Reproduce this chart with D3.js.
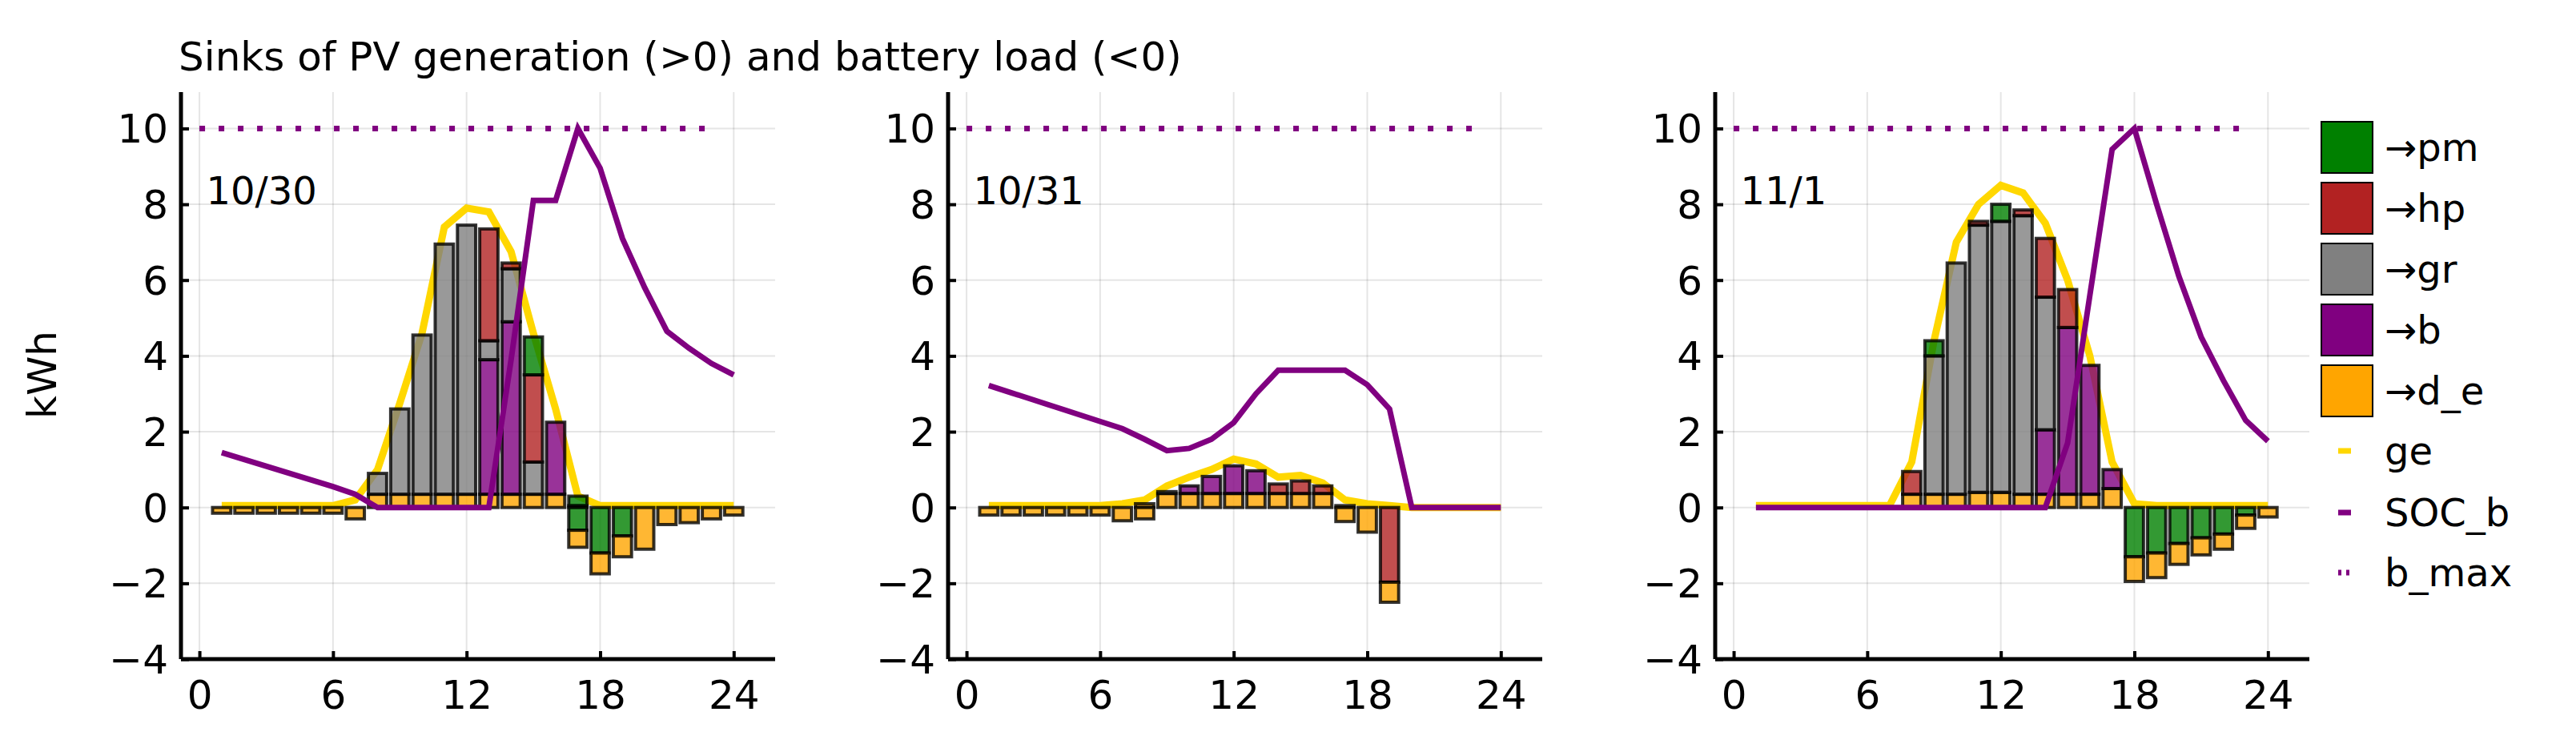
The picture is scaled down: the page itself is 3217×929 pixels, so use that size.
<!DOCTYPE html>
<html><head><meta charset="utf-8">
<script src="https://cdn.jsdelivr.net/npm/d3@7"></script>
<style>body{margin:0;background:#fff}text{font-family:"DejaVu Sans",sans-serif}</style>
</head><body>
<script>
const hours = d3.range(1,25);
const days = ["10/30","10/31","11/1"];
const xTicks = [0,6,12,18,24];
const yTicks = [-4,-2,0,2,4,6,8,10];
const bMax = 10;
// PV generation
const ge = [
 [0.05,0.05,0.05,0.05,0.05,0.05,0.2,1.0,2.75,4.6,7.4,7.9,7.8,6.75,4.6,2.6,0.3,0.05,0.05,0.05,0.05,0.05,0.05,0.05],
 [0.05,0.05,0.05,0.05,0.05,0.05,0.1,0.2,0.57,0.8,1.0,1.28,1.15,0.8,0.85,0.65,0.2,0.1,0.05,0,0,0,0,0],
 [0.05,0.05,0.05,0.05,0.05,0.05,0.05,1.2,4.4,7.0,8.0,8.5,8.3,7.5,6.0,4.0,1.2,0.1,0.05,0.05,0.05,0.05,0.05,0.05]];
// state of charge
const soc = [
 [1.45,1.27,1.09,0.91,0.73,0.55,0.35,0,0,0,0,0,0,3.9,8.1,8.1,10,8.95,7.1,5.8,4.65,4.2,3.8,3.5],
 [3.22,3.03,2.84,2.65,2.46,2.27,2.08,1.8,1.5,1.56,1.8,2.24,3.0,3.62,3.62,3.62,3.62,3.24,2.6,0,0,0,0,0],
 [0,0,0,0,0,0,0,0,0,0,0,0,0,0,1.7,5.6,9.45,10,8.0,6.1,4.5,3.35,2.3,1.75]];
// positive sinks
const dePos = [
 [0,0,0,0,0,0,0,0.35,0.35,0.35,0.35,0.35,0.35,0.35,0.35,0.35,0,0,0,0,0,0,0,0],
 [0,0,0,0,0,0,0,0.1,0.37,0.37,0.37,0.37,0.37,0.37,0.37,0.37,0.05,0,0,0,0,0,0,0],
 [0,0,0,0,0,0,0,0.35,0.35,0.35,0.4,0.4,0.35,0.35,0.35,0.35,0.5,0,0,0,0,0,0,0]];
const bPos = [
 [0,0,0,0,0,0,0,0,0,0,0,0,3.55,4.55,0,1.9,0,0,0,0,0,0,0,0],
 [0,0,0,0,0,0,0,0,0,0.2,0.45,0.73,0.6,0,0,0,0,0,0,0,0,0,0,0],
 [0,0,0,0,0,0,0,0,0,0,0,0,0,1.7,4.4,3.4,0.5,0,0,0,0,0,0,0]];
const grPos = [
 [0,0,0,0,0,0,0,0.55,2.25,4.2,6.6,7.1,0.5,1.4,0.85,0,0,0,0,0,0,0,0,0],
 [0,0,0,0,0,0,0,0,0.05,0,0,0,0,0,0,0,0,0,0,0,0,0,0,0],
 [0,0,0,0,0,0,0,0,3.65,6.1,7.05,7.15,7.35,3.5,0,0,0,0,0,0,0,0,0,0]];
const hpPos = [
 [0,0,0,0,0,0,0,0,0,0,0,0,2.95,0.15,2.3,0,0.05,0,0,0,0,0,0,0],
 [0,0,0,0,0,0,0,0,0,0,0,0,0,0.25,0.33,0.2,0,0,0,0,0,0,0,0],
 [0,0,0,0,0,0,0,0.6,0,0,0.1,0,0.15,1.55,1.0,0,0,0,0,0,0,0,0,0]];
const pmPos = [
 [0,0,0,0,0,0,0,0,0,0,0,0,0,0,1.0,0,0.25,0,0,0,0,0,0,0],
 [0,0,0,0,0,0,0,0,0,0,0,0,0,0,0,0,0,0,0,0,0,0,0,0],
 [0,0,0,0,0,0,0,0,0.4,0,0,0.45,0,0,0,0,0,0,0,0,0,0,0,0]];
// battery discharge (negative)
const pmNeg = [
 [0,0,0,0,0,0,0,0,0,0,0,0,0,0,0,0,-0.6,-1.2,-0.75,0,0,0,0,0],
 [0,0,0,0,0,0,0,0,0,0,0,0,0,0,0,0,0,0,0,0,0,0,0,0],
 [0,0,0,0,0,0,0,0,0,0,0,0,0,0,0,0,0,-1.3,-1.2,-0.95,-0.8,-0.7,-0.2,0]];
const hpNeg = [
 [0,0,0,0,0,0,0,0,0,0,0,0,0,0,0,0,0,0,0,0,0,0,0,0],
 [0,0,0,0,0,0,0,0,0,0,0,0,0,0,0,0,0,0,-1.97,0,0,0,0,0],
 [0,0,0,0,0,0,0,0,0,0,0,0,0,0,0,0,0,0,0,0,0,0,0,0]];
const deNeg = [
 [-0.15,-0.15,-0.15,-0.15,-0.15,-0.15,-0.3,0,0,0,0,0,0,0,0,0,-0.45,-0.55,-0.55,-1.1,-0.45,-0.4,-0.3,-0.2],
 [-0.2,-0.2,-0.2,-0.2,-0.2,-0.2,-0.35,-0.3,0,0,0,0,0,0,0,0,-0.37,-0.65,-0.53,0,0,0,0,0],
 [0,0,0,0,0,0,0,0,0,0,0,0,0,0,0,0,0,-0.65,-0.65,-0.55,-0.45,-0.4,-0.35,-0.25]];
const posSeries = [["d_e",dePos],["b",bPos],["gr",grPos],["hp",hpPos],["pm",pmPos]];
const negSeries = [["pm",pmNeg],["hp",hpNeg],["d_e",deNeg]];
const colors = {pm:"#008000",hp:"#B22222",gr:"#808080",b:"#800080",d_e:"#FFA500"};
const legendBars = ["pm","hp","gr","b","d_e"];

const W=3217,H=929;
const svg=d3.select("body").append("svg").attr("width",W).attr("height",H);
const panelLeft=[226,1184,2142], pw=742;
const y=d3.scaleLinear().domain([-4,10.96]).range([823,115]);

svg.append("text").attr("x",223).attr("y",88).attr("font-size",50).text("Sinks of PV generation (>0) and battery load (<0)");
svg.append("text").attr("transform","translate(70,468) rotate(-90)").attr("text-anchor","middle").attr("font-size",50).text("kWh");

days.forEach((day,i)=>{
  const L=panelLeft[i];
  const x=d3.scaleLinear().domain([-0.83,25.86]).range([L,L+pw]);
  const g=svg.append("g");
  // grid
  g.selectAll(".gx").data(xTicks).join("line").attr("x1",d=>x(d)).attr("x2",d=>x(d)).attr("y1",115).attr("y2",823).attr("stroke","#000").attr("stroke-opacity",0.1).attr("stroke-width",2);
  g.selectAll(".gy").data(yTicks).join("line").attr("x1",L).attr("x2",L+pw).attr("y1",d=>y(d)).attr("y2",d=>y(d)).attr("stroke","#000").attr("stroke-opacity",0.1).attr("stroke-width",2);
  // ge line
  g.append("path").datum(hours).attr("fill","none").attr("stroke","#FFD700").attr("stroke-width",9)
    .attr("d",d3.line().x(h=>x(h)).y((h,k)=>y(ge[i][k])));
  // bars
  const bw=x(0.82)-x(0);
  function stack(series,sign){
    hours.forEach((h,k)=>{
      let base=0;
      series.forEach(([name,arr])=>{
        const v=arr[i][k]; if(v===0) return;
        const top=base+v;
        g.append("rect").attr("x",x(h)-bw/2).attr("width",bw)
          .attr("y",y(Math.max(base,top))).attr("height",Math.abs(y(base)-y(top)))
          .attr("fill",colors[name]).attr("fill-opacity",0.8).attr("stroke","#000").attr("stroke-opacity",0.8).attr("stroke-width",4);
        base=top;
      });
    });
  }
  stack(posSeries,1); stack(negSeries,-1);
  // b_max
  g.append("line").attr("x1",x(0)).attr("x2",x(23)).attr("y1",y(bMax)).attr("y2",y(bMax)).attr("stroke","#800080").attr("stroke-width",7).attr("stroke-dasharray","7 17");
  // SOC
  g.append("path").datum(hours).attr("fill","none").attr("stroke","#800080").attr("stroke-width",7)
    .attr("d",d3.line().x(h=>x(h)).y((h,k)=>y(soc[i][k])));
  // axes
  const ax=g.append("g").attr("transform","translate(0,823)").call(d3.axisBottom(x).tickValues(xTicks).tickSize(-10).tickPadding(22));
  ax.select(".domain").attr("stroke-width",5).attr("d",`M${L},0H${L+pw}`);
  const ay=g.append("g").attr("transform",`translate(${L},0)`).call(d3.axisLeft(y).tickValues(yTicks).tickSize(-10).tickPadding(16).tickFormat(d=>d<0?"\u2212"+(-d):d));
  ay.select(".domain").attr("stroke-width",5).attr("d","M0,115V823");
  [ax,ay].forEach(a=>{a.selectAll("text").attr("font-size",50).attr("fill","#000").attr("font-family","DejaVu Sans");a.selectAll(".tick line").attr("stroke-width",4);});
  ax.selectAll("text").attr("dy","0.8em");
  ay.selectAll("text").attr("dy","0.35em");
  g.append("text").attr("x",x(0.3)).attr("y",255).attr("font-size",48).text(day);
});

// legend
const lg=svg.append("g");
legendBars.forEach((n,k)=>{
  const cy=184+k*76;
  lg.append("rect").attr("x",2899).attr("y",cy-32).attr("width",64).attr("height",64).attr("fill",colors[n]).attr("stroke","#000").attr("stroke-width",2);
  lg.append("text").attr("x",2978).attr("y",cy+17).attr("font-size",48).text("\u2192"+n);
});
[["ge","#FFD700",null,563],["SOC_b","#800080",null,640],["b_max","#800080","4 6",715]].forEach(([n,c,da,cy])=>{
  lg.append("line").attr("x1",2920).attr("x2",2936).attr("y1",cy).attr("y2",cy).attr("stroke",c).attr("stroke-width",7).attr("stroke-dasharray",da);
  lg.append("text").attr("x",2978).attr("y",cy+17).attr("font-size",48).text(n);
});
</script>
</body></html>
